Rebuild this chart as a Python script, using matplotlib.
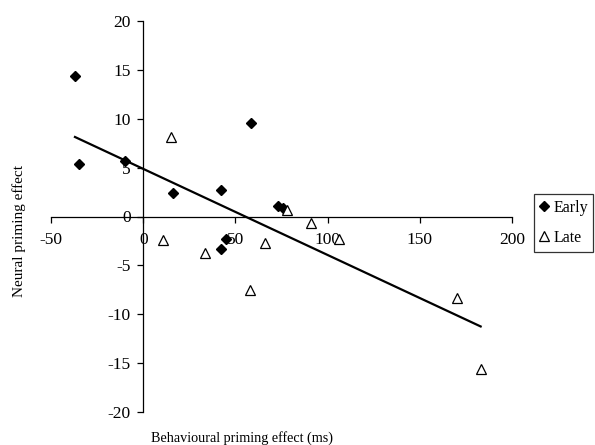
import matplotlib
matplotlib.use("Agg")
import matplotlib.pyplot as plt
import numpy as np

plt.rcParams['font.family'] = ['Liberation Serif', 'DejaVu Serif']
plt.rcParams['axes.unicode_minus'] = False

early_x = [-37, -35, -10, 16, 42, 58.5, 73, 76, 45, 42]
early_y = [14.4, 5.4, 5.7, 2.4, 2.7, 9.6, 1.1, 0.9, -2.3, -3.3]
late_x = [15, 78, 10.5, 33.5, 58, 66, 91, 106, 170, 183]
late_y = [8.1, 0.7, -2.4, -3.7, -7.5, -2.7, -0.7, -2.3, -8.3, -15.6]

xticks = [-50, 0, 50, 100, 150, 200]
yticks = [-20, -15, -10, -5, 0, 5, 10, 15, 20]

fig = plt.figure(figsize=(5.95, 4.45), dpi=100)
ax = fig.add_axes([51/595, 1-412/445, (512-51)/595, (412-21)/445])

ax.plot(early_x, early_y, linestyle='none', marker='D', ms=5, color='black', label='Early')
ax.plot(late_x, late_y, linestyle='none', marker='^', ms=6.5, mfc='white', mec='black', mew=0.9, label='Late')

all_x = np.array(early_x + late_x)
all_y = np.array(early_y + late_y)
slope, intercept = np.polyfit(all_x, all_y, 1)
xs = np.array([all_x.min(), all_x.max()])
ax.plot(xs, slope * xs + intercept, color='black', lw=1.6)

ax.set_xlim(-50, 200)
ax.set_ylim(-20, 20)
ax.set_xticks(xticks)
ax.set_yticks(yticks)
ax.spines['left'].set_position(('data', 0))
ax.spines['bottom'].set_position(('data', 0))
ax.spines['top'].set_visible(False)
ax.spines['right'].set_visible(False)
for s in ('left', 'bottom'):
    ax.spines[s].set_linewidth(0.9)
ax.tick_params(direction='out', length=4, width=0.9, labelsize=12.5)
ax.tick_params(axis='y', pad=5)
ax.tick_params(axis='x', pad=7.5)

fig.text(19/595, 1-231/445, 'Neural priming effect', rotation=90, ha='center', va='center', fontsize=11)
fig.text(242/595, 1-438/445, 'Behavioural priming effect (ms)', ha='center', va='center', fontsize=10.2)

leg = fig.legend(loc='upper left', bbox_to_anchor=(534/595, 1-194/445), fontsize=11.5,
                 frameon=True, fancybox=False, edgecolor='black', handlelength=0.5,
                 handletextpad=0.35, borderpad=0.35, labelspacing=0.9, borderaxespad=0)
leg.get_frame().set_linewidth(0.9)

fig.savefig('out.png', dpi=100)
